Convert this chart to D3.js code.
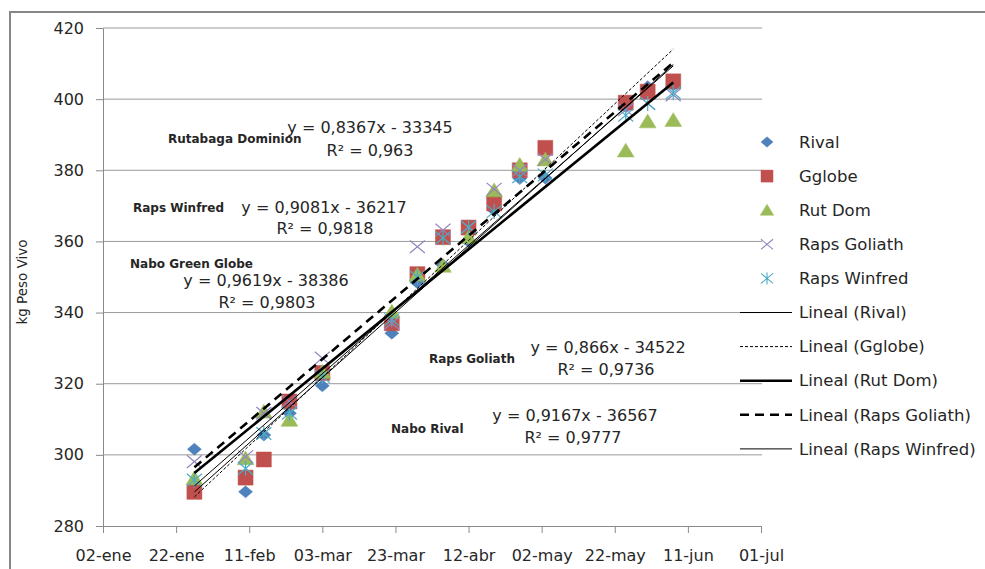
<!DOCTYPE html>
<html>
<head>
<meta charset="utf-8">
<script src="https://cdn.jsdelivr.net/npm/d3@7"></script>
<style>
  body { margin: 0; background: #fff; }
  text { font-family: "DejaVu Sans", sans-serif; fill: #262626; }
</style>
</head>
<body>
<svg id="chart"></svg>
<script>
// weighing dates and live weight (kg) per group
const sampleDates = ["2010-01-27", "2010-02-10", "2010-02-15", "2010-02-22", "2010-03-03",
                     "2010-03-22", "2010-03-29", "2010-04-05", "2010-04-12", "2010-04-19",
                     "2010-04-26", "2010-05-03", "2010-05-25", "2010-05-31", "2010-06-07"];
const rival       = [301.6, 289.6, 305.6, 311.7, 319.4, 334.2, 348.4, 353.4, 360.0, 368.8, 377.7, 377.8, 397.9, 403.5, 404.0];
const gglobe      = [289.6, 293.6, 298.7, 315.0, 323.0, 337.0, 350.8, 361.2, 363.9, 370.7, 380.0, 386.3, 399.0, 402.1, 405.0];
const rutDom      = [293.4, 299.0, 312.1, 309.8, 323.3, 340.2, 350.6, 353.1, 361.2, 374.3, 381.5, 383.0, 385.5, 393.7, 394.1];
const rapsGoliath = [298.1, 299.5, 311.7, 315.0, 327.2, 337.0, 358.5, 363.2, 364.0, 374.7, 380.0, 383.0, 397.0, 398.8, 401.2];
const rapsWinfred = [292.9, 296.2, 306.0, 311.7, 322.0, 338.0, 350.0, 361.0, 364.0, 368.4, 378.2, 378.7, 395.5, 398.8, 401.8];

const seriesNames = ["Rival", "Gglobe", "Rut Dom", "Raps Goliath", "Raps Winfred"];
const trendNames  = ["Lineal (Rival)", "Lineal (Gglobe)", "Lineal (Rut Dom)", "Lineal (Raps Goliath)", "Lineal (Raps Winfred)"];

const xTickDates  = ["2010-01-02", "2010-01-22", "2010-02-11", "2010-03-03", "2010-03-23",
                     "2010-04-12", "2010-05-02", "2010-05-22", "2010-06-11", "2010-07-01"];
const xTickLabels = ["02-ene", "22-ene", "11-feb", "03-mar", "23-mar", "12-abr", "02-may", "22-may", "11-jun", "01-jul"];
const yTicks      = [280, 300, 320, 340, 360, 380, 400, 420];

const noteLabels = ["Rutabaga Dominion", "Raps Winfred", "Nabo Green Globe", "Raps Goliath", "Nabo Rival"];
const noteEqs    = ["y = 0,8367x - 33345", "y = 0,9081x - 36217", "y = 0,9619x - 38386", "y = 0,866x - 34522", "y = 0,9167x - 36567"];
const noteR2     = ["R² = 0,963", "R² = 0,9818", "R² = 0,9803", "R² = 0,9736", "R² = 0,9777"];

(function () {
    const W = 985, H = 569;
    const plot = { left: 103, right: 761, top: 28, bottom: 526 };
    const parse = d3.timeParse("%Y-%m-%d");
    const dates = sampleDates.map(parse);
    const values = [rival, gglobe, rutDom, rapsGoliath, rapsWinfred];

    const svg = d3.select("#chart").attr("width", W).attr("height", H);

    const x = d3.scaleTime()
        .domain([parse(xTickDates[0]), parse(xTickDates[xTickDates.length - 1])])
        .range([plot.left, plot.right]);
    const y = d3.scaleLinear().domain([280, 420]).range([plot.bottom, plot.top]);

    const colors = ["#4F81BD", "#C0504D", "#9BBB59", "#9484C0", "#4BACC6"];

    // marker shapes, drawn a bit wider than tall like the original
    const shapes = [
        s => `M0,${-s * 0.43}L${s * 0.5},0L0,${s * 0.43}L${-s * 0.5},0Z`,
        s => `M${-s / 2},${-s / 2}h${s}v${s}h${-s}Z`,
        s => `M0,${-s * 0.5}L${s * 0.56},${s * 0.42}L${-s * 0.56},${s * 0.42}Z`,
        s => `M${-s / 2},${-s * 0.42}L${s / 2},${s * 0.42}M${-s / 2},${s * 0.42}L${s / 2},${-s * 0.42}`,
        s => `M${-s / 2},${-s * 0.42}L${s / 2},${s * 0.42}M${-s / 2},${s * 0.42}L${s / 2},${-s * 0.42}M0,${-s * 0.5}V${s * 0.5}`
    ];
    const filled = [true, true, true, false, false];

    const trendStyle = [
        { w: 1, dash: null },
        { w: 1, dash: "3,2" },
        { w: 2.6, dash: null },
        { w: 2.6, dash: "9,6" },
        { w: 1, dash: null }
    ];

    // outer frame
    svg.append("rect")
        .attr("x", 10).attr("y", 12).attr("width", 1000).attr("height", 600)
        .attr("fill", "none").attr("stroke", "#868686").attr("stroke-width", 2);

    // gridlines
    svg.append("g").selectAll("line")
        .data(yTicks.slice(1))
        .enter().append("line")
        .attr("x1", plot.left).attr("x2", plot.right + 1)
        .attr("y1", d => y(d)).attr("y2", d => y(d))
        .attr("stroke", "#9a9a9a").attr("stroke-width", 1);

    // axes
    const gx = svg.append("g")
        .attr("transform", `translate(0,${plot.bottom})`)
        .call(d3.axisBottom(x)
            .tickValues(xTickDates.map(parse))
            .tickFormat((d, i) => xTickLabels[i])
            .tickSize(7).tickSizeOuter(0).tickPadding(17));
    const gy = svg.append("g")
        .attr("transform", `translate(${plot.left},0)`)
        .call(d3.axisLeft(y).tickValues(yTicks).tickSize(7).tickSizeOuter(0).tickPadding(12));
    [gx, gy].forEach(g => {
        g.selectAll("path, line").attr("stroke", "#8a8a8a");
        g.selectAll("text").attr("font-size", 16).attr("font-family", "DejaVu Sans").attr("fill", "#262626");
    });

    svg.append("text")
        .attr("transform", `translate(27,282) rotate(-90)`)
        .attr("text-anchor", "middle")
        .attr("font-size", 13.5)
        .text("kg Peso Vivo");

    // scatter points
    values.forEach((vals, k) => {
        svg.append("g").selectAll("path")
            .data(vals)
            .enter().append("path")
            .attr("transform", (d, i) => `translate(${x(dates[i])},${y(d)})`)
            .attr("d", shapes[k](k === 0 ? 14 : 15))
            .attr("fill", filled[k] ? colors[k] : "none")
            .attr("stroke", colors[k])
            .attr("stroke-width", filled[k] ? 0.5 : 1.2);
    });

    // least squares trend lines over the sampled range
    const day = 864e5;
    values.forEach((vals, k) => {
        const xs = dates.map(d => (d - dates[0]) / day);
        const mx = d3.mean(xs), my = d3.mean(vals);
        const slope = d3.sum(xs, (v, i) => (v - mx) * (vals[i] - my)) / d3.sum(xs, v => (v - mx) * (v - mx));
        const ends = [dates[0], dates[dates.length - 1]].map(d => {
            const t = (d - dates[0]) / day;
            return [x(d), y(my + slope * (t - mx))];
        });
        svg.append("path")
            .attr("d", d3.line()(ends))
            .attr("fill", "none")
            .attr("stroke", "#000")
            .attr("stroke-width", trendStyle[k].w)
            .attr("stroke-dasharray", trendStyle[k].dash);
    });

    // equation notes
    const notePos = [
        { lx: 168, ly: 143, ex: 370, ey: 133, rx: 370, ry: 156 },
        { lx: 133, ly: 212, ex: 324, ey: 213, rx: 325, ry: 234 },
        { lx: 130, ly: 268, ex: 266, ey: 286, rx: 267, ry: 308 },
        { lx: 429, ly: 363, ex: 608, ey: 353, rx: 606, ry: 375 },
        { lx: 391, ly: 433, ex: 575, ey: 421, rx: 573, ry: 443 }
    ];
    noteLabels.forEach((lab, i) => {
        const p = notePos[i];
        svg.append("text").attr("x", p.lx).attr("y", p.ly)
            .attr("font-size", 12).attr("font-weight", "bold").text(lab);
        svg.append("text").attr("x", p.ex).attr("y", p.ey)
            .attr("text-anchor", "middle").attr("font-size", 16).text(noteEqs[i]);
        svg.append("text").attr("x", p.rx).attr("y", p.ry)
            .attr("text-anchor", "middle").attr("font-size", 16).text(noteR2[i]);
    });

    // legend
    const legend = svg.append("g");
    const rowY = i => 142 + i * 34.1;
    seriesNames.forEach((name, k) => {
        legend.append("path")
            .attr("transform", `translate(767,${rowY(k)})`)
            .attr("d", shapes[k](12))
            .attr("fill", filled[k] ? colors[k] : "none")
            .attr("stroke", colors[k])
            .attr("stroke-width", filled[k] ? 0.5 : 1.1);
        legend.append("text").attr("x", 799).attr("y", rowY(k)).attr("dy", "0.35em")
            .attr("font-size", 16.5).text(name);
    });
    trendNames.forEach((name, k) => {
        const yy = rowY(k + 5);
        legend.append("line")
            .attr("x1", 740).attr("x2", 792).attr("y1", yy).attr("y2", yy)
            .attr("stroke", "#000")
            .attr("stroke-width", trendStyle[k].w)
            .attr("stroke-dasharray", trendStyle[k].dash);
        legend.append("text").attr("x", 799).attr("y", yy).attr("dy", "0.35em")
            .attr("font-size", 16.5).text(name);
    });
})();
</script>
</body>
</html>
